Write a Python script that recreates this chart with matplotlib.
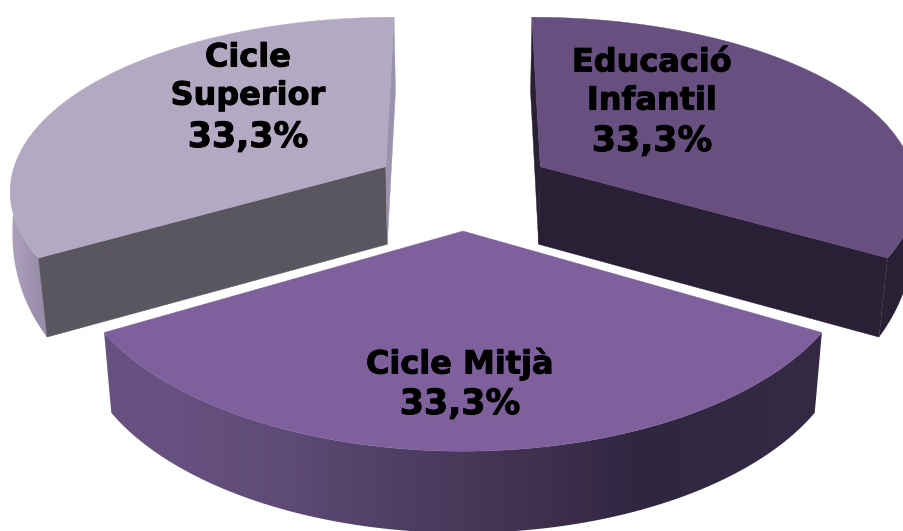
import numpy as np
import matplotlib
matplotlib.use("Agg")
import matplotlib.pyplot as plt
import matplotlib.patheffects as pe
from matplotlib.colors import to_rgb
from matplotlib.patches import Polygon

# chart data
labels = ["Educació\nInfantil", "Cicle Mitjà", "Cicle\nSuperior"]
values = [33.3, 33.3, 33.3]

# styling per slice, same order as the data
top_colors = ["#67507F", "#7E609C", "#B4A9C3"]
cut_colors = ["#2A2035", None, "#595660"]
far_colors = ["#2A2035", None, "#9C92AE"]
# wall gradients run left to right on screen
wall_stops = [
    ["#2A2035", "#2A2035"],
    ["#675181", "#5F4B77", "#4F3E63", "#423250", "#2F2640", "#342943"],
    ["#A99DBA", "#9A8EAB"],
]
name_pos = [(652, 82), (460, 364), (248, 77)]
pct_pos = [(652, 141), (460, 404), (248, 137)]

# fake 3d camera, fitted by eye
CX, CY = 463, 187.4
A, B = 377, 175.8
KX, KY = 0.122, 0.14
EXPLODE = 0.24


def project(x, y, low=False, t=1.0):
    u = A * x / (1 + KX * y)
    v = CY - B * y / (1 + KY * y)
    if low:
        # t < 1 pulls the lower rim back up where the wall turns away at the sides
        u = u * (1 - 0.02 * t)
        v = v + (78 - 3 * y) * (0.33 + 0.67 * np.sqrt(t))
    return CX + u, v


def draw_slice(ax, start, end, top, cut, far, stops):
    mid = np.radians((start + end) / 2)
    ox, oy = EXPLODE * np.cos(mid), EXPLODE * np.sin(mid)
    th = np.radians(np.linspace(start, end, 241))
    xs, ys = ox + np.cos(th), oy + np.sin(th)
    ux, uy = project(xs, ys)
    t = np.clip(-np.sin(th) / 0.5, 0, 1)
    lx, ly = project(xs, ys, low=True, t=t)
    c0 = project(ox, oy)
    c1 = project(ox, oy, low=True)

    # flat cut faces: the one facing us, then the thin far one
    if cut is not None:
        # the face that ends on the rim nearest the front
        k = 0 if np.sin(th[0]) < np.sin(th[-1]) else -1
        ax.fill([c0[0], ux[k], lx[k], c1[0]], [c0[1], uy[k], ly[k], c1[1]],
                color=cut, lw=0.3, zorder=2)
        k = -1 - k
        lx2, ly2 = project(xs[k], ys[k], low=True)
        ax.fill([c0[0], ux[k], lx2, c1[0]], [c0[1], uy[k], ly2, c1[1]],
                color=far, lw=0.3, zorder=2)

    # outer wall, gradient image clipped to the wall shape
    front = np.sin(th) <= 0
    wx = np.r_[ux[front], lx[front][::-1]]
    wy = np.r_[uy[front], ly[front][::-1]]
    rgb = np.array([[to_rgb(c) for c in stops]])
    im = ax.imshow(rgb, extent=(wx.min(), wx.max(), wy.max(), wy.min()), aspect="auto",
                   interpolation="bilinear", zorder=1)
    im.set_clip_path(Polygon(np.column_stack([wx, wy]), transform=ax.transData))

    # top face
    ax.fill(np.r_[c0[0], ux], np.r_[c0[1], uy], color=top, lw=0.3, zorder=3)


fig = plt.figure(figsize=(9.04, 5.31), dpi=100)
ax = fig.add_axes([0, 0, 1, 1])

# slices start at 12 o'clock and go clockwise
sweep = np.array(values) / np.sum(values) * 360
bounds = 90 - np.r_[0, np.cumsum(sweep)]

for i in [2, 0, 1]:
    draw_slice(ax, bounds[i], bounds[i + 1], top_colors[i], cut_colors[i], far_colors[i], wall_stops[i])

# thicker strokes, the original font is heavier than DejaVu bold
heavy = [pe.withStroke(linewidth=0.7, foreground="black")]
total = sum(values)
for i, name in enumerate(labels):
    pct = f"{values[i] / total * 100:.1f}".replace(".", ",")
    ax.text(name_pos[i][0], name_pos[i][1], name, ha="center", va="center", fontsize=23,
            fontweight="bold", family="DejaVu Sans", color="black", linespacing=1.3,
            path_effects=heavy, zorder=5)
    ax.text(pct_pos[i][0], pct_pos[i][1], f"{pct}%", ha="center", va="center", fontsize=25,
            fontweight="bold", family="DejaVu Sans", color="black", path_effects=heavy, zorder=5)

ax.set_xlim(0, 904)
ax.set_ylim(531, 0)
ax.axis("off")

fig.savefig("out.png", dpi=100)
